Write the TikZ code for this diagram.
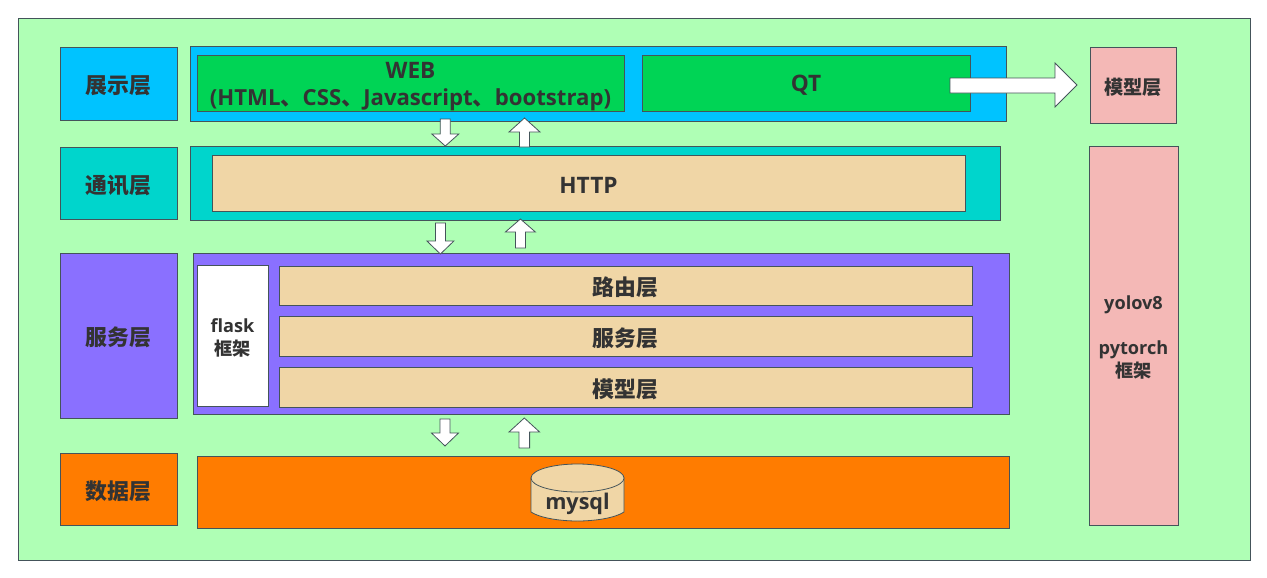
\documentclass[tikz,border=0pt]{standalone}
\usepackage{fontspec}
\setmainfont{Noto Sans CJK SC}
\newfontfamily\lat{Open Sans}
\definecolor{bgc}{HTML}{AFFFB5}
\definecolor{bluec}{HTML}{00C3FF}
\definecolor{greenc}{HTML}{00D455}
\definecolor{tealc}{HTML}{00D5CC}
\definecolor{purpc}{HTML}{8A70FF}
\definecolor{beigec}{HTML}{F0D6A6}
\definecolor{orangec}{HTML}{FF7C00}
\definecolor{pinkc}{HTML}{F4B8B6}
\definecolor{txt}{HTML}{333333}
\definecolor{edge}{HTML}{44545A}
\tikzset{
  box/.style={draw=edge,line width=0.6pt,inner sep=0pt,outer sep=0pt},
  lbl/.style={inner sep=0pt,outer sep=0pt,align=center,text=txt,yshift=-1.6pt,font=\fontsize{16.4}{19}\selectfont\bfseries},
  lblsmall/.style={lbl,font=\fontsize{13.6}{17}\selectfont\bfseries},
  lblcap/.style={lbl,font=\fontsize{17}{20}\selectfont\bfseries},
  blockarrow/.style={draw=edge,line width=0.6pt,fill=white,line join=miter},
}
% #1 name, #2-#5 x1 y1 x2 y2 in px, #6 fill
\newcommand\bx[6]{%
  \pgfmathsetmacro\cxx{(#2+#4)/2}\pgfmathsetmacro\cyy{(#3+#5)/2}%
  \pgfmathsetmacro\wdd{(#4-#2)*0.75}\pgfmathsetmacro\htt{(#5-#3)*0.75}%
  \node[box,fill=#6,minimum width=\wdd pt,minimum height=\htt pt] (#1) at (\cxx,\cyy) {};}
% vertical block arrow: centre x, half shaft, half head, tail y, shoulder y, tip y
\newcommand\varrow[6]{%
  \draw[blockarrow] ({#1-#2},#4) -- ({#1+#2},#4) -- ({#1+#2},#5) -- ({#1+#3},#5) -- (#1,#6) -- ({#1-#3},#5) -- ({#1-#2},#5) -- cycle;}
\begin{document}
\begin{tikzpicture}[x=0.75pt,y=-0.75pt]
\useasboundingbox (0,0) rectangle (1267,578);
\bx{outer}{18}{18}{1250}{560}{bgc}
\bx{lshow}{60}{47}{177}{120}{bluec}
\bx{top}{190}{46}{1006}{121}{bluec}
\bx{web}{197}{55}{624}{111}{greenc}
\bx{qt}{642}{55}{970}{111}{greenc}
\bx{lmodel}{1090}{47}{1176}{123}{pinkc}
\bx{lcomm}{60}{147}{177}{219}{tealc}
\bx{comm}{190}{146}{1000}{220}{tealc}
\bx{http}{212}{155}{965}{211}{beigec}
\bx{lserv}{60}{253}{177}{418}{purpc}
\bx{serv}{193}{253}{1009}{414}{purpc}
\bx{flask}{197}{265}{268}{406}{white}
\bx{route}{279}{266}{972}{305}{beigec}
\bx{svc}{279}{316}{972}{356}{beigec}
\bx{model}{279}{367}{972}{407}{beigec}
\bx{ldata}{60}{453}{177}{525}{orangec}
\bx{data}{197}{456}{1009}{528}{orangec}
\bx{yolo}{1089}{146}{1178}{525}{pinkc}
\node[lbl] (tshow) at (lshow) {展示层};
\node[lbl] (tcomm) at (lcomm) {通讯层};
\node[lbl] (tserv) at (lserv) {服务层};
\node[lbl] (tdata) at (ldata) {数据层};
\node[lbl,font=\fontsize{14.4}{17}\selectfont\bfseries] (tmodel) at (lmodel) {模型层};
\node[lbl,font=\fontsize{16.6}{20}\selectfont\bfseries,yshift=-1pt] (tweb) at (web) {{\lat\fontsize{17}{20}\selectfont\bfseries WEB}\\{\lat (HTML}、{\lat CSS}、{\lat Javascript}、{\lat bootstrap)}};
\node[lblcap] (tqt) at (qt) {\lat QT};
\node[lblcap] (thttp) at (http) {\lat HTTP};
\node[lblsmall] (tflask) at (flask) {{\lat flask}\\框架};
\node[lbl] (troute) at (route) {路由层};
\node[lbl] (tsvc) at (svc) {服务层};
\node[lbl] (tmod) at (model) {模型层};
\node[lblsmall] (tyolo) at (yolo) {{\lat yolov8}\\[17pt]{\lat pytorch}\\框架};
% cylinder
\draw[draw=edge,line width=0.6pt,fill=beigec] (531,478) -- (531,512) .. controls (540,518) and (560,521) .. (577.5,521) .. controls (595,521) and (615,518) .. (624,512) -- (624,478) -- cycle;
\draw[draw=edge,line width=0.6pt,fill=beigec] (577.5,478) ellipse [x radius=46.5,y radius=14];
\node[inner sep=0pt,text=txt,font=\fontsize{16.2}{19}\selectfont\lat\bfseries] (mysql) at (577.5,503.5) {mysql};
% arrows
\varrow{445.3}{5}{13.5}{119}{134}{146}
\varrow{524.5}{5}{15.5}{147}{132}{118}
\varrow{440.4}{5}{13.5}{223}{241}{254}
\varrow{520.4}{5}{15}{248}{232}{219}
\varrow{445}{5}{13.5}{419}{433}{446}
\varrow{524.3}{5.3}{15.3}{448}{432}{418}
\draw[blockarrow] (950,78) -- (1055,78) -- (1055,63) -- (1077,85) -- (1055,107) -- (1055,93) -- (950,93) -- cycle;
\end{tikzpicture}
\end{document}
